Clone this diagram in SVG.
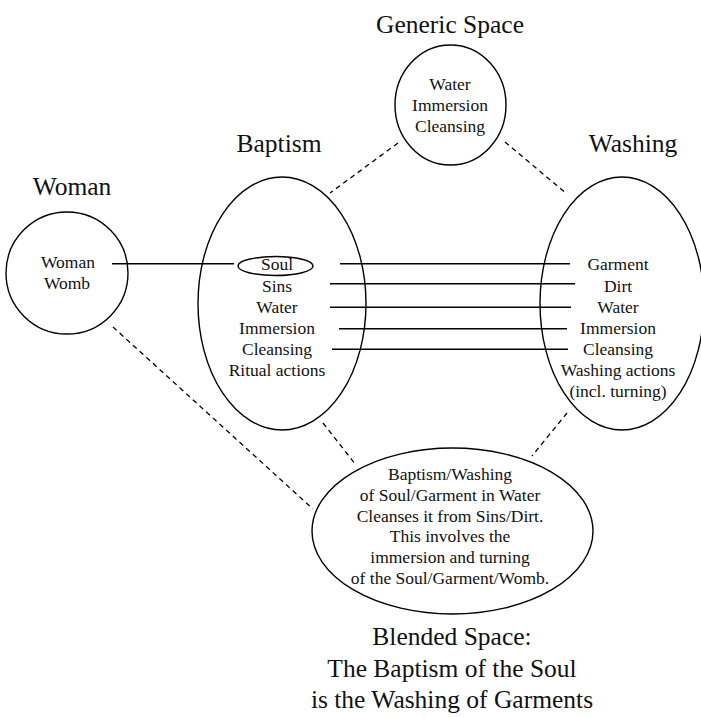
<svg xmlns="http://www.w3.org/2000/svg" width="701" height="717" viewBox="0 0 701 717">
  <style>
    .shape { fill: none; stroke: #000; stroke-width: 1.4; }
    .link { fill: none; stroke: #000; stroke-width: 1.4; }
    .dash { fill: none; stroke: #000; stroke-width: 1.3; stroke-dasharray: 5 4; }
    .title { font-family: "Liberation Serif", "DejaVu Serif", serif; font-size: 25.5px; fill: #111; text-anchor: middle; }
    .body { font-family: "Liberation Serif", "DejaVu Serif", serif; font-size: 17.5px; fill: #111; text-anchor: middle; }
  </style>
  <rect width="701" height="717" fill="#fff"/>

  <!-- connectors: dashed mapping lines and solid counterpart lines -->
  <g id="connectors">
    <line class="dash" x1="398" y1="143" x2="330" y2="193"/>
    <line class="dash" x1="505" y1="142" x2="567" y2="194"/>
    <line class="dash" x1="113" y1="327" x2="313" y2="509"/>
    <line class="dash" x1="323" y1="423" x2="356" y2="465"/>
    <line class="dash" x1="567" y1="413" x2="532" y2="456"/>
    <line class="link" x1="112" y1="263.7" x2="234" y2="263.7"/>
    <line class="link" x1="340" y1="263.7" x2="570" y2="263.7"/>
    <line class="link" x1="330" y1="283.7" x2="575" y2="283.7"/>
    <line class="link" x1="330" y1="307.3" x2="571" y2="307.3"/>
    <line class="link" x1="339" y1="328.7" x2="567" y2="328.7"/>
    <line class="link" x1="332" y1="349.3" x2="568" y2="349.3"/>
  </g>

  <g id="generic">
    <text class="title" x="450" y="33">Generic Space</text>
    <ellipse class="shape" cx="450.5" cy="105" rx="55.5" ry="60"/>
    <text class="body" x="450" y="90">Water</text>
    <text class="body" x="450" y="111">Immersion</text>
    <text class="body" x="450" y="132">Cleansing</text>
  </g>

  <g id="woman">
    <text class="title" x="72" y="195">Woman</text>
    <ellipse class="shape" cx="67" cy="273" rx="61" ry="61"/>
    <text class="body" x="68" y="268">Woman</text>
    <text class="body" x="67" y="288.5">Womb</text>
  </g>

  <g id="baptism">
    <text class="title" x="279" y="152">Baptism</text>
    <ellipse class="shape" cx="282" cy="303.5" rx="84" ry="126.5"/>
    <ellipse class="shape" cx="275.5" cy="266" rx="37.5" ry="9.5"/>
    <text class="body" x="277" y="270">Soul</text>
    <text class="body" x="277" y="291.5">Sins</text>
    <text class="body" x="277" y="312.5">Water</text>
    <text class="body" x="277" y="333.5">Immersion</text>
    <text class="body" x="277" y="354.5">Cleansing</text>
    <text class="body" x="277" y="375.5">Ritual actions</text>
  </g>

  <g id="washing">
    <text class="title" x="633" y="152">Washing</text>
    <ellipse class="shape" cx="622" cy="303.5" rx="82" ry="126.5"/>
    <text class="body" x="618" y="270">Garment</text>
    <text class="body" x="618" y="291.5">Dirt</text>
    <text class="body" x="618" y="312.5">Water</text>
    <text class="body" x="618" y="333.5">Immersion</text>
    <text class="body" x="618" y="354.5">Cleansing</text>
    <text class="body" x="618" y="375.5">Washing actions</text>
    <text class="body" x="618" y="396.7">(incl. turning)</text>
  </g>

  <g id="blended">
    <ellipse class="shape" cx="452.5" cy="531" rx="140.5" ry="83"/>
    <text class="body" x="450" y="480">Baptism/Washing</text>
    <text class="body" x="450" y="501">of Soul/Garment in Water</text>
    <text class="body" x="450" y="521.5">Cleanses it from Sins/Dirt.</text>
    <text class="body" x="450" y="542">This involves the</text>
    <text class="body" x="450" y="563">immersion and turning</text>
    <text class="body" x="450" y="583.5">of the Soul/Garment/Womb.</text>
    <text class="title" x="452" y="645">Blended Space:</text>
    <text class="title" x="452" y="677">The Baptism of the Soul</text>
    <text class="title" x="452" y="708">is the Washing of Garments</text>
  </g>
</svg>
